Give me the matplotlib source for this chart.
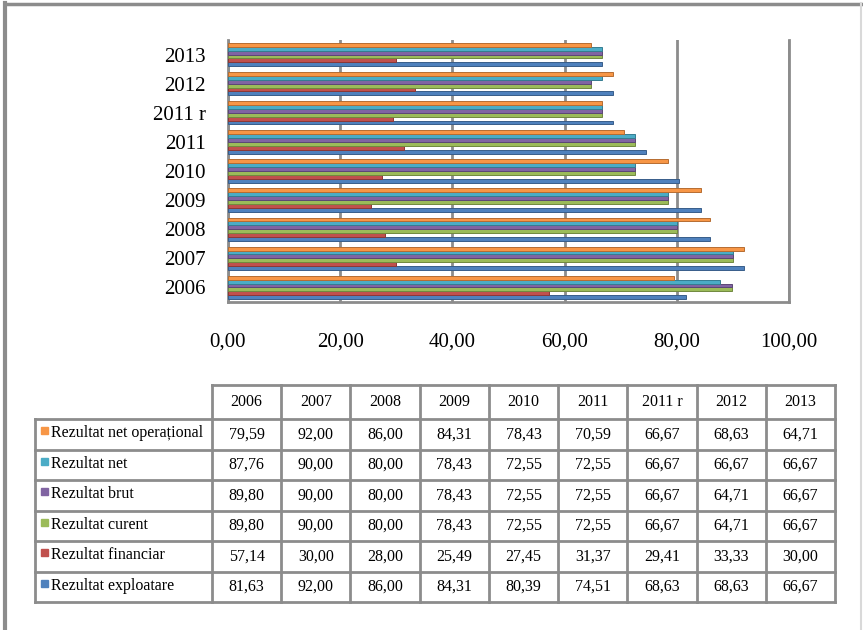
import numpy as np
import matplotlib
matplotlib.use("Agg")
import matplotlib.pyplot as plt
from matplotlib.lines import Line2D
from matplotlib.patches import Rectangle

plt.rcParams['font.family'] = ['Liberation Serif', 'DejaVu Serif']

# data
years = ["2006", "2007", "2008", "2009", "2010", "2011", "2011 r", "2012", "2013"]
series_names = ["Rezultat exploatare", "Rezultat financiar", "Rezultat curent",
                "Rezultat brut", "Rezultat net", "Rezultat net operațional"]
exploatare = [81.63, 92.00, 86.00, 84.31, 80.39, 74.51, 68.63, 68.63, 66.67]
financiar = [57.14, 30.00, 28.00, 25.49, 27.45, 31.37, 29.41, 33.33, 30.00]
curent = [89.80, 90.00, 80.00, 78.43, 72.55, 72.55, 66.67, 64.71, 66.67]
brut = [89.80, 90.00, 80.00, 78.43, 72.55, 72.55, 66.67, 64.71, 66.67]
net = [87.76, 90.00, 80.00, 78.43, 72.55, 72.55, 66.67, 66.67, 66.67]
net_operational = [79.59, 92.00, 86.00, 84.31, 78.43, 70.59, 66.67, 68.63, 64.71]
x_ticks = [0, 20, 40, 60, 80, 100]

series = [exploatare, financiar, curent, brut, net, net_operational]
colors = ["#4F81BD", "#C0504D", "#9BBB59", "#8064A2", "#4BACC6", "#F79646"]
edges = ["#385D8A", "#8C3836", "#71893F", "#5C4776", "#357D91", "#B66D31"]

W, H = 863, 630
fig = plt.figure(figsize=(W / 100, H / 100), dpi=100)


def box(x0, y0, x1, y1):
    # pixel box (top-left origin) -> figure fractions
    return [x0 / W, 1 - y1 / H, (x1 - x0) / W, (y1 - y0) / H]


grey = "#8C8C8C"

# chart frame
fig.add_artist(Line2D([5 / W, 5 / W], [0, 1 - 3 / H], color=grey, lw=3, transform=fig.transFigure))
fig.add_artist(Line2D([5 / W, 1], [1 - 4 / H, 1 - 4 / H], color=grey, lw=2.5, transform=fig.transFigure))
fig.add_artist(Line2D([861 / W, 861 / W], [0, 1 - 3 / H], color="#D9D9D9", lw=1.5, transform=fig.transFigure))

# bar chart
ax = fig.add_axes(box(228, 40, 789, 302))
y = np.arange(len(years))
n = len(series)
h = 0.8 / n
for j, (vals, c, ec) in enumerate(zip(series, colors, edges)):
    ax.barh(y - 0.4 + h / 2 + j * h, vals, height=h, color=c, edgecolor=ec, linewidth=0.7, zorder=3)

ax.set_xlim(0, 100)
ax.set_ylim(-0.5, len(years) - 0.5)
ax.set_xticks(x_ticks)
ax.set_xticklabels([f"{v:.2f}".replace(".", ",") for v in x_ticks], fontsize=15)
ax.set_yticks(y)
ax.set_yticklabels(years, fontsize=15)
ax.tick_params(axis="x", length=0, pad=22)
ax.tick_params(axis="y", length=0, pad=16)
ax.grid(axis="x", color=grey, lw=2, zorder=1)
ax.spines["top"].set_visible(False)
for s in ["left", "bottom", "right"]:
    ax.spines[s].set_color(grey)
    ax.spines[s].set_linewidth(2)

# data table
tx0, tx1 = 35, 835
label_w = 177
col_w = (tx1 - tx0 - label_w) / len(years)
head_top, head_bot, tbot = 385, 419, 602
row_h = (tbot - head_bot) / n

tax = fig.add_axes(box(0, 0, W, H))
tax.set_xlim(0, W)
tax.set_ylim(H, 0)
tax.axis("off")

xs = [tx0 + label_w + k * col_w for k in range(len(years) + 1)]
for x in xs:
    tax.plot([x, x], [head_top, tbot], color=grey, lw=2)
tax.plot([tx0, tx0], [head_bot, tbot], color=grey, lw=2)
tax.plot([xs[0], xs[-1]], [head_top, head_top], color=grey, lw=2)
for r in range(n + 1):
    yy = head_bot + r * row_h
    tax.plot([tx0, xs[-1]], [yy, yy], color=grey, lw=2)

for k, yr in enumerate(years):
    tax.text(xs[k] + col_w / 2, (head_top + head_bot) / 2, yr, ha="center", va="center", fontsize=11.5)

for r in range(n):
    j = n - 1 - r
    yc = head_bot + (r + 0.5) * row_h
    tax.add_patch(Rectangle((41, yc - 7), 7, 7, color=colors[j]))
    tax.text(51, yc - 1, series_names[j], ha="left", va="center", fontsize=11.5)
    for k, v in enumerate(series[j]):
        tax.text(xs[k] + col_w / 2, yc, f"{v:.2f}".replace(".", ","), ha="center", va="center", fontsize=11.5)

fig.savefig("out.png", dpi=100)
